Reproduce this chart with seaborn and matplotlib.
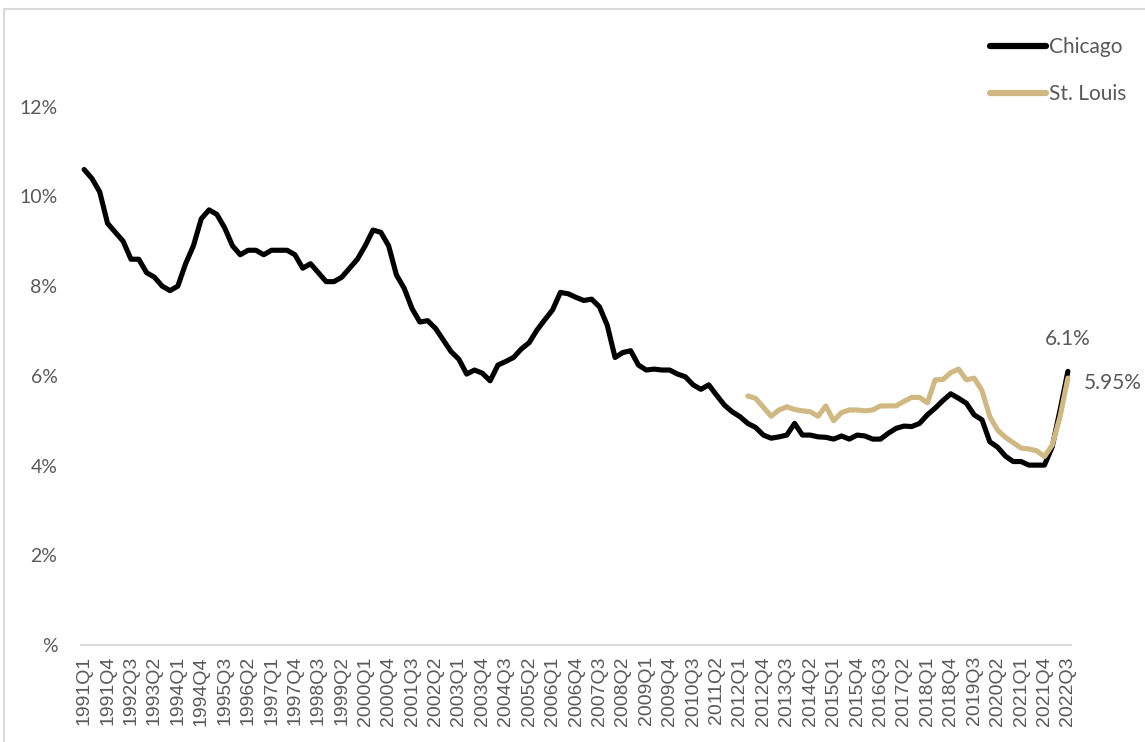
import numpy as np
import pandas as pd
import matplotlib
matplotlib.use("Agg")
import matplotlib.pyplot as plt
from matplotlib.patches import Rectangle
import seaborn as sns

# data ---------------------------------------------------------------------
quarters = [f"{y}Q{q}" for y in range(1991, 2023) for q in range(1, 5)][:127]

chicago = [
    10.6, 10.4, 10.1, 9.4,
    9.2, 9.0, 8.6, 8.6,
    8.3, 8.2, 8.0, 7.9,
    8.0, 8.5, 8.9, 9.5,
    9.7, 9.6, 9.3, 8.9,
    8.7, 8.8, 8.8, 8.7,
    8.8, 8.8, 8.8, 8.7,
    8.4, 8.5, 8.3, 8.1,
    8.1, 8.2, 8.4, 8.6,
    8.9, 9.25, 9.2, 8.9,
    8.25, 7.95, 7.5, 7.2,
    7.23, 7.06, 6.8, 6.54,
    6.37, 6.04, 6.13, 6.06,
    5.89, 6.24, 6.32, 6.41,
    6.6, 6.74, 7.02, 7.25,
    7.47, 7.86, 7.83, 7.75,
    7.68, 7.71, 7.54, 7.13,
    6.41, 6.52, 6.56, 6.24,
    6.13, 6.15, 6.13, 6.13,
    6.04, 5.98, 5.8, 5.7,
    5.8, 5.57, 5.35, 5.2,
    5.09, 4.94, 4.85, 4.68,
    4.61, 4.64, 4.68, 4.94,
    4.68, 4.68, 4.64, 4.63,
    4.59, 4.66, 4.59, 4.68,
    4.66, 4.59, 4.59, 4.72,
    4.83, 4.88, 4.87, 4.94,
    5.13, 5.28, 5.45, 5.6,
    5.5, 5.39, 5.13, 5.02,
    4.53, 4.41, 4.21, 4.09,
    4.09, 4.01, 4.01, 4.01,
    4.42, 5.24, 6.1,
]

# St. Louis series starts in 2012Q2
stl_start = "2012Q2"
st_louis = [
    5.55, 5.5, 5.3,
    5.1, 5.24, 5.31, 5.25,
    5.22, 5.2, 5.1, 5.33,
    5.0, 5.18, 5.24, 5.24,
    5.22, 5.24, 5.33, 5.33,
    5.33, 5.43, 5.52, 5.52,
    5.4, 5.91, 5.92, 6.07,
    6.15, 5.91, 5.95, 5.67,
    5.09, 4.79, 4.63, 4.51,
    4.39, 4.37, 4.33, 4.2,
    4.46, 5.09, 5.95,
]

y_ticks = [0, 2, 4, 6, 8, 10, 12]
y_tick_labels = ["%", "2%", "4%", "6%", "8%", "10%", "12%"]
end_labels = ["6.1%", "5.95%"]

# build long frame ------------------------------------------------------------
i0 = quarters.index(stl_start)
df = pd.concat([
    pd.DataFrame({"idx": np.arange(len(chicago)), "rate": chicago, "city": "Chicago"}),
    pd.DataFrame({"idx": np.arange(i0, i0 + len(st_louis)), "rate": st_louis, "city": "St. Louis"}),
])

sns.set_theme(style="white")
plt.rcParams["font.family"] = ["Lato", "DejaVu Sans"]

grey_txt = "#595959"
palette = {"Chicago": "#000000", "St. Louis": "#D0B882"}

fig = plt.figure(figsize=(11.45, 7.42), dpi=100)
ax = fig.add_axes([81 / 1145, 97 / 742, (1071 - 81) / 1145, (645 - 17) / 742])

sns.lineplot(data=df, x="idx", y="rate", hue="city", palette=palette,
             linewidth=3.7, ax=ax, legend=True)
for ln in ax.get_lines():
    ln.set_solid_capstyle("round")
    ln.set_solid_joinstyle("round")

ax.set_xlim(-0.4, len(quarters) - 1 + 0.4)
ax.set_ylim(0, 14)
ax.set_xlabel("")
ax.set_ylabel("")

ax.set_xticks(np.arange(0, len(quarters), 3))
ax.set_xticklabels(quarters[::3], rotation=90, family="Liberation Sans",
                   fontsize=14, color=grey_txt)
ax.set_yticks(y_ticks)
ax.set_yticklabels(y_tick_labels, fontsize=14, color=grey_txt)
ax.tick_params(axis="x", length=0, pad=8)
ax.tick_params(axis="y", length=0, pad=17)

for s in ["top", "left", "right"]:
    ax.spines[s].set_visible(False)
ax.spines["bottom"].set_color("#D9D9D9")
ax.spines["bottom"].set_linewidth(1.5)

# end-of-series labels
last = len(quarters) - 1
ax.annotate(end_labels[0], xy=(last, chicago[-1]), xytext=(0, 32),
            textcoords="offset pixels", ha="center", va="center",
            fontsize=15, color=grey_txt)
ax.annotate(end_labels[1], xy=(last, st_louis[-1]), xytext=(16, -5),
            textcoords="offset pixels", ha="left", va="center",
            fontsize=15, color=grey_txt)

# legend top right
leg = ax.legend(loc="upper left", bbox_to_anchor=(990 / 1145, 1 - 37 / 742),
                bbox_transform=fig.transFigure, frameon=False, fontsize=15,
                handlelength=2.7, handletextpad=0.15, labelspacing=1.3,
                borderpad=0, borderaxespad=0)
for t in leg.get_texts():
    t.set_color(grey_txt)
for h in leg.get_lines():
    h.set_linewidth(4.5)
    h.set_solid_capstyle("round")

# outer chart border
fig.patches.append(Rectangle((4 / 1145, -0.1), 1.2, 1 - 9 / 742 + 0.1,
                             transform=fig.transFigure, fill=False,
                             edgecolor="#D9D9D9", linewidth=1.5))

fig.savefig("out.png", dpi=100)
